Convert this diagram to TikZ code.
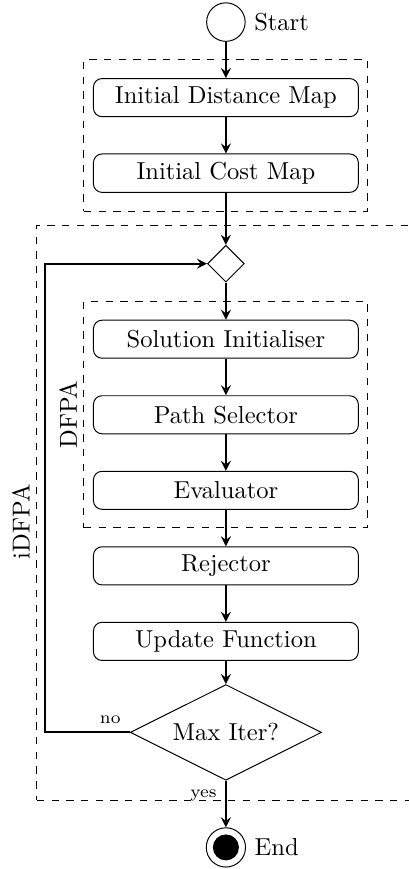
\documentclass[tikz,border=0pt]{standalone}
\usepackage{amsmath,amssymb}
\usepackage{tikz}
\usetikzlibrary{positioning, arrows, shapes.geometric, fit}
\tikzset{
    ->,
    >=stealth,
    node distance = 30.8pt,
    every edge/.style={draw, thick},
    block/.style={draw, thin, rounded corners=3.5pt, minimum width=108pt, minimum height=15.5pt},
    terminal/.style={draw, thin, circle, minimum size=15.7pt, inner sep=0pt},
    decision/.style={draw, thin, diamond, aspect=2, minimum width=78pt, minimum height=39pt, inner sep=0pt},
    junction/.style={draw, thin, diamond, minimum size=15pt, inner sep=0pt},
    group/.style={draw, thin, dashed, inner xsep=3.7pt, inner ysep=7.4pt},
    grouplabel/.style={rotate=90, anchor=south, inner sep=2.5pt},
    branch/.style={font=\scriptsize}
}

\begin{document}
\begin{tikzpicture}
    % flowchart of the iterative DFPA
        \useasboundingbox (-92.1pt, 9.0pt) rectangle (74.6pt, -345.3pt);
        \node[terminal, label=right:Start] (start) { };
        \node[block, below of=start] (dist) {Initial Distance Map};
        \node[block, below of=dist] (cost) {Initial Cost Map};
        \node[junction, below of=cost, node distance=36.9pt] (merge) { };
        \node[block, below of=merge] (init) {Solution Initialiser};
        \node[block, below of=init] (path) {Path Selector};
        \node[block, below of=path] (eval) {Evaluator};
        \node[block, below of=eval] (rej) {Rejector};
        \node[block, below of=rej] (upd) {Update Function};
        \node[decision, below of=upd, node distance=37.1pt] (maxiter) {Max Iter?};
        \node[terminal, minimum size=16pt, below of=maxiter, node distance=46.9pt, label=right:End,
            path picture={\fill (path picture bounding box.center) circle (5.3pt);}] (end) { };
        \coordinate[left of=merge, node distance=73.8pt] (fbtop);
        \coordinate[right of=merge, node distance=85pt] (farright);

        % dashed groups
        \node[group, fit=(dist)(cost)] (prep) {};
        \node[group, fit=(init)(eval)] (dfpa) {};
        \node[group, inner xsep=3.3pt, inner ysep=8pt, fit=(merge)(maxiter)(fbtop)(farright)] (idfpa) {};
        \node[grouplabel] (dfpalabel) at (dfpa.west) {DFPA};
        \node[grouplabel] (idfpalabel) at ([yshift=-3.7pt]idfpa.west) {iDFPA};

        \draw (start) edge (dist)
        (dist) edge (cost)
        (cost) edge (merge)
        (merge) edge (init)
        (init) edge (path)
        (path) edge (eval)
        (eval) edge (rej)
        (rej) edge (upd)
        (upd) edge (maxiter)
        (maxiter) edge node[branch, pos=0, anchor=north east] {yes} (end);
        \draw[thick] (maxiter.west) node[branch, anchor=south east] {no} -| (fbtop) -- (merge);
    \end{tikzpicture}
\end{document}
